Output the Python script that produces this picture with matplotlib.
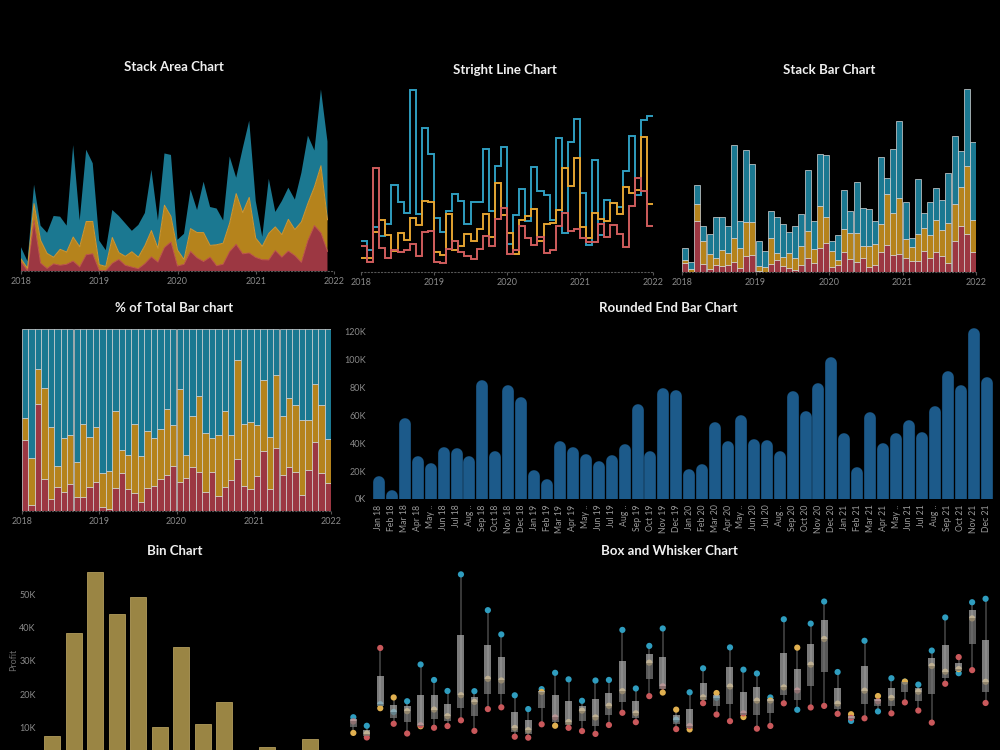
import numpy as np
import matplotlib.pyplot as plt
from matplotlib.collections import LineCollection

plt.rcParams['font.family'] = ['Lato', 'DejaVu Sans']

# monthly sales (K), Jan 2018 .. Dec 2021
total = [16, 6.5, 58, 30.5, 25.7, 37, 36.5, 30.5, 84.6, 34, 81.5, 72.4,
         20.4, 14, 41, 37, 32, 27, 31, 39, 68, 34, 79, 78,
         21, 25, 54.8, 41, 60, 43, 42, 34, 77, 62.7, 82.4, 101,
         47, 23, 62, 39.7, 47, 56, 48, 66, 91, 81, 122, 87]
# share of each segment in % (red = bottom, gold = middle, rest = teal)
red_pct = [39, 3.3, 58.6, 17.6, 6.6, 13, 10.6, 14.8, 7.9, 7.9, 13.4, 16,
           2.4, 0.9, 12.6, 21, 12, 9.7, 5, 12.6, 14, 17.6, 20, 25,
           16, 18, 24, 21.6, 10.6, 21.6, 8.4, 13.4, 17, 28.6, 14, 12,
           19.4, 33, 12, 34.8, 19.8, 24, 21.6, 8.8, 22.5, 37.7, 21, 15.2]
gold_pct = [12, 25.7, 19.4, 50.2, 39.4, 12, 29.4, 27, 19.1, 40.1, 27.4, 30,
            18.6, 21.1, 42.4, 12.5, 18.8, 38.3, 25, 31.2, 26, 27.4, 36, 22,
            51, 13, 28, 41.4, 32.4, 18.4, 33.6, 41.6, 24.8, 54.4, 33.6, 37,
            27.6, 39, 28.8, 39.9, 32.2, 38, 36.4, 41.2, 27.5, 32.1, 37, 24.4]
month_names = ["Jan", "Feb", "Mar", "Apr", "May ..", "Jun",
               "Jul", "Aug ..", "Sep", "Oct", "Nov", "Dec"]
years = ["18", "19", "20", "21"]
month_labels = [m if m.endswith("..") else m + " " + y for y in years for m in month_names]
year_ticks = [2018, 2019, 2020, 2021, 2022]

bin_profit = [7.4, 38.3, 56.9, 44.1, 49.3, 10.2, 34.3, 10.9, 17.5, 0, 4.2, 0, 6.4]

total = np.array(total)
red = total * np.array(red_pct) / 100
gold = total * np.array(gold_pct) / 100
teal = total - red - gold
n = len(total)
idx = np.arange(n)
x_start = 2018 + idx / 12
x_mid = 2018 + (idx + 0.5) / 12
edges = 2018 + np.arange(n + 1) / 12

RED, GOLD, TEAL = '#9c3742', '#b5831c', '#1b7891'
RED_L, GOLD_L, TEAL_L = '#cf5c5c', '#e3a331', '#2f9dbf'
BG = '#000000'
GREY = '#8a8a8a'
W, H = 1000, 750


def box(l, t, r, b):
    return [l / W, 1 - b / H, (r - l) / W, (b - t) / H]


fig = plt.figure(figsize=(10, 7.5), dpi=100, facecolor=BG)


def style(ax, dotted=True):
    ax.set_facecolor(BG)
    for s in ax.spines.values():
        s.set_visible(False)
    if dotted:
        ax.spines['bottom'].set_visible(True)
        ax.spines['bottom'].set_linestyle((0, (1, 2)))
        ax.spines['bottom'].set_color('#555555')
    ax.tick_params(colors='#555555', labelcolor=GREY, labelsize=6.5, length=2, pad=2.5)
    ax.set_yticks([])


def title(x, y, s):
    fig.text(x / W, 1 - y / H, s, ha='center', va='center', fontsize=9.5,
             fontweight='bold', color='#f0f0f0')


# Stack Area Chart
ax1 = fig.add_axes(box(21, 85, 334, 271))
style(ax1)
ax1.stackplot(x_start, red, gold, teal, colors=[RED, GOLD, TEAL], lw=0)
ax1.plot(x_start, red, color='#c2574f', lw=0.7)
ax1.plot(x_start, red + gold, color='#d39a35', lw=0.7)
ax1.set_xlim(2018, 2022)
ax1.set_ylim(0, 125)
ax1.set_xticks(year_ticks)
title(174, 67, 'Stack Area Chart')

# Stright Line Chart
ax2 = fig.add_axes(box(361, 85, 653, 272))
style(ax2)
ax2.stairs(teal, edges, baseline=None, color=TEAL_L, lw=1.4)
ax2.stairs(gold, edges, baseline=None, color=GOLD_L, lw=1.4)
ax2.stairs(red, edges, baseline=None, color=RED_L, lw=1.4)
ax2.set_xlim(2018, 2022)
ax2.set_ylim(-3.2, 63.6)
ax2.set_xticks(year_ticks)
title(505, 70, 'Stright Line Chart')

# Stack Bar Chart
ax3 = fig.add_axes(box(682, 85, 976, 272))
style(ax3)
kw = dict(width=1 / 12, edgecolor='#d8d8d8', linewidth=0.5)
ax3.bar(x_mid, red, color=RED, **kw)
ax3.bar(x_mid, gold, bottom=red, color=GOLD, **kw)
ax3.bar(x_mid, teal, bottom=red + gold, color=TEAL, **kw)
ax3.set_xlim(2018, 2022)
ax3.set_ylim(0, 125)
ax3.set_xticks(year_ticks)
title(829, 70, 'Stack Bar Chart')

# % of Total Bar chart
ax4 = fig.add_axes(box(22, 329, 331, 511))
style(ax4)
ax4.bar(x_mid, red_pct, color=RED, **kw)
ax4.bar(x_mid, gold_pct, bottom=red_pct, color=GOLD, **kw)
ax4.bar(x_mid, 100 * teal / total, bottom=np.array(red_pct) + np.array(gold_pct), color=TEAL, **kw)
ax4.set_xlim(2018, 2022)
ax4.set_ylim(0, 100)
ax4.set_xticks(year_ticks)
title(174, 308, '% of Total Bar chart')

# Rounded End Bar Chart
ax5 = fig.add_axes(box(372, 325, 993, 499))
style(ax5, dotted=False)
ax5.set_xlim(-0.54, 47.5)
ax5.set_ylim(0, 124.3)
lw_pt = 8.4
r = (lw_pt / 72 * 100 / 2) * 124.3 / 174
segs = [[(i, -r), (i, v - r)] for i, v in zip(idx, total)]
ax5.add_collection(LineCollection(segs, colors='#1c5a8a', linewidths=lw_pt, capstyle='round'))
ax5.set_yticks(range(0, 121, 20))
ax5.set_yticklabels([f'{v}K' for v in range(0, 121, 20)])
ax5.set_xticks(idx)
ax5.set_xticklabels(month_labels, rotation=90, fontsize=6.2, color='#9a9a9a')
ax5.tick_params(axis='y', length=0, pad=4)
ax5.tick_params(axis='x', length=0, pad=4)
title(668, 308, 'Rounded End Bar Chart')

# Bin Chart
ax6 = fig.add_axes(box(40, 565, 332, 760.5))
style(ax6, dotted=False)
ax6.bar(range(len(bin_profit)), bin_profit, width=0.744, color='#9a8544',
        edgecolor='#b29c5c', linewidth=0.6)
ax6.set_xlim(-0.57, 13.0)
ax6.set_ylim(0, 58.9)
ax6.set_yticks([10, 20, 30, 40, 50])
ax6.set_yticklabels(['10K', '20K', '30K', '40K', '50K'])
ax6.tick_params(axis='y', length=0, pad=3)
ax6.set_xticks([])
fig.text(14 / W, 1 - 660 / H, 'Profit', rotation=90, ha='center', va='center',
         fontsize=6.5, color='#6a6a6a')
title(175, 551, 'Bin Chart')

# Box and Whisker Chart
ax7 = fig.add_axes(box(345, 565, 995, 760))
style(ax7, dotted=False)
ax7.set_xlim(-0.62, 47.7)
ax7.set_ylim(-8.3, 65.3)
ax7.set_xticks([])
for i in idx:
    vals = [teal[i], gold[i], red[i]]
    q1, med, q3 = np.percentile(vals, [25, 50, 75])
    ax7.vlines(i, min(vals), max(vals), color='#3e3e3e', lw=1.3, zorder=1)
    ax7.scatter([i] * 3, vals, s=20, c=[TEAL_L, '#e0b050', '#c9585b'], zorder=2, lw=0)
    ax7.bar(i, q3 - med, bottom=med, width=0.52, color='#b0b0b0', alpha=0.7, zorder=3)
    ax7.bar(i, med - q1, bottom=q1, width=0.52, color='#777777', alpha=0.75, zorder=3)
title(669, 551, 'Box and Whisker Chart')

fig.savefig('out.png', dpi=100, facecolor=BG)
